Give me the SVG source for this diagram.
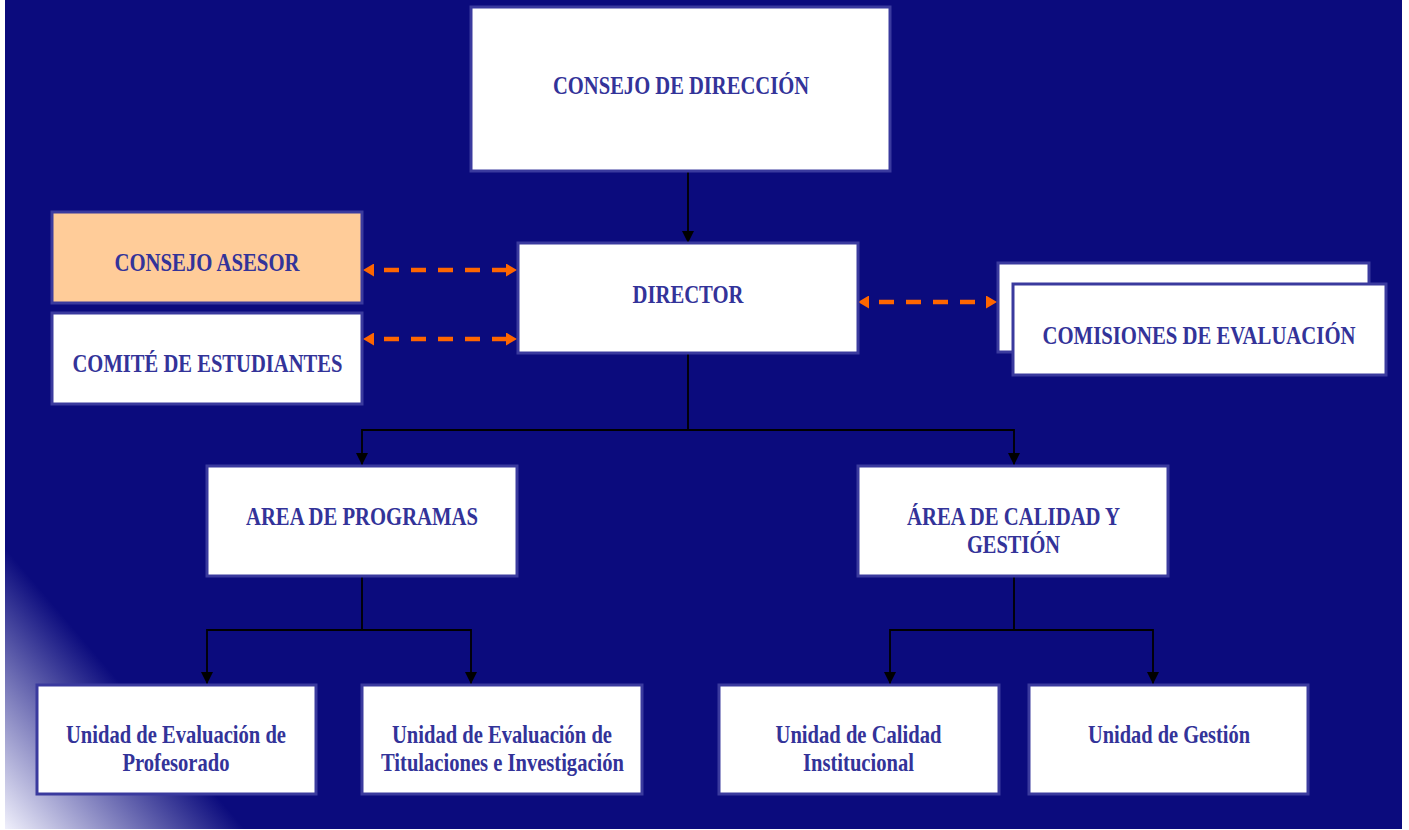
<svg xmlns="http://www.w3.org/2000/svg" width="1409" height="830" viewBox="0 0 1409 830">
<defs>
<style>
.box{fill:#ffffff;stroke:#3a3a9e;stroke-width:3}
.asesor{fill:#ffcc99}
.t{font-family:"Liberation Serif","Times New Roman",serif;font-weight:bold;font-size:24.5px;fill:#333399;text-anchor:middle}
.conn{fill:none;stroke:#000000;stroke-width:1.8}
.dash{fill:none;stroke:#ff6600;stroke-width:4.5;stroke-dasharray:15 12;stroke-dashoffset:17}
</style>
<linearGradient id="corner" gradientUnits="userSpaceOnUse" x1="5" y1="829" x2="143.8" y2="710.5">
<stop offset="0" stop-color="#efeffb"/>
<stop offset="1" stop-color="#0b0b7d"/>
</linearGradient>
<marker id="ah" markerUnits="userSpaceOnUse" markerWidth="12" markerHeight="12" refX="12" refY="6" orient="auto">
<path d="M0,0 L12,6 L0,12 z" fill="#000000"/>
</marker>
<marker id="oh" markerUnits="userSpaceOnUse" markerWidth="11" markerHeight="13" refX="0" refY="6.5" orient="auto-start-reverse">
<path d="M0,0 L11,6.5 L0,13 z" fill="#ff6600"/>
</marker>
</defs>
<rect x="0" y="0" width="1409" height="830" fill="#ffffff"/>
<rect x="5" y="0" width="1397" height="829" fill="#0b0b7d"/>
<polygon points="5,548 5,829 245,829" fill="url(#corner)"/>

<g id="connectors">
<line class="conn" x1="688" y1="171" x2="688" y2="243" marker-end="url(#ah)"/>
<polyline class="conn" points="688,353 688,430 362,430 362,465" marker-end="url(#ah)"/>
<polyline class="conn" points="688,430 1014,430 1014,465" marker-end="url(#ah)"/>
<polyline class="conn" points="362,576 362,630 207,630 207,684" marker-end="url(#ah)"/>
<polyline class="conn" points="362,630 471,630 471,684" marker-end="url(#ah)"/>
<polyline class="conn" points="1014,576 1014,630 890,630 890,684" marker-end="url(#ah)"/>
<polyline class="conn" points="1014,630 1153,630 1153,684" marker-end="url(#ah)"/>
<line class="dash" x1="374" y1="270" x2="506" y2="270" marker-start="url(#oh)" marker-end="url(#oh)"/>
<line class="dash" x1="374" y1="339" x2="506" y2="339" marker-start="url(#oh)" marker-end="url(#oh)"/>
<line class="dash" x1="869" y1="302" x2="986" y2="302" marker-start="url(#oh)" marker-end="url(#oh)"/>
</g>

<g id="consejo-direccion">
<rect class="box" x="471" y="7" width="419" height="164"/>
<text class="t" x="681" y="94" textLength="256" lengthAdjust="spacingAndGlyphs">CONSEJO DE DIRECCIÓN</text>
</g>
<g id="consejo-asesor">
<rect class="box asesor" x="52" y="212" width="310" height="91"/>
<text class="t" x="207" y="271" textLength="185" lengthAdjust="spacingAndGlyphs">CONSEJO ASESOR</text>
</g>
<g id="comite-estudiantes">
<rect class="box" x="52" y="313" width="310" height="91"/>
<text class="t" x="207.5" y="372" textLength="270" lengthAdjust="spacingAndGlyphs">COMITÉ DE ESTUDIANTES</text>
</g>
<g id="director">
<rect class="box" x="518" y="243" width="340" height="110"/>
<text class="t" x="688" y="303" textLength="111" lengthAdjust="spacingAndGlyphs">DIRECTOR</text>
</g>
<g id="comisiones-evaluacion">
<rect class="box" x="998" y="263" width="371" height="89"/>
<rect class="box" x="1013" y="284" width="373" height="91"/>
<text class="t" x="1199" y="344" textLength="313" lengthAdjust="spacingAndGlyphs">COMISIONES DE EVALUACIÓN</text>
</g>
<g id="area-programas">
<rect class="box" x="207" y="466" width="310" height="110"/>
<text class="t" x="362" y="525" textLength="232" lengthAdjust="spacingAndGlyphs">AREA DE PROGRAMAS</text>
</g>
<g id="area-calidad">
<rect class="box" x="858" y="466" width="310" height="110"/>
<text class="t" x="1013.5" y="525" textLength="213" lengthAdjust="spacingAndGlyphs">ÁREA DE CALIDAD Y</text>
<text class="t" x="1013.5" y="553" textLength="93" lengthAdjust="spacingAndGlyphs">GESTIÓN</text>
</g>
<g id="unidad-profesorado">
<rect class="box" x="37" y="685" width="279" height="109"/>
<text class="t" x="176" y="743" textLength="220" lengthAdjust="spacingAndGlyphs">Unidad de Evaluación de</text>
<text class="t" x="176" y="771" textLength="107" lengthAdjust="spacingAndGlyphs">Profesorado</text>
</g>
<g id="unidad-titulaciones">
<rect class="box" x="362" y="685" width="280" height="109"/>
<text class="t" x="502" y="743" textLength="220" lengthAdjust="spacingAndGlyphs">Unidad de Evaluación de</text>
<text class="t" x="502.5" y="771" textLength="243" lengthAdjust="spacingAndGlyphs">Titulaciones e Investigación</text>
</g>
<g id="unidad-calidad">
<rect class="box" x="719" y="685" width="280" height="109"/>
<text class="t" x="858.5" y="743" textLength="166" lengthAdjust="spacingAndGlyphs">Unidad de Calidad</text>
<text class="t" x="858.5" y="771" textLength="111" lengthAdjust="spacingAndGlyphs">Institucional</text>
</g>
<g id="unidad-gestion">
<rect class="box" x="1029" y="685" width="279" height="109"/>
<text class="t" x="1169" y="743" textLength="162" lengthAdjust="spacingAndGlyphs">Unidad de Gestión</text>
</g>
</svg>
